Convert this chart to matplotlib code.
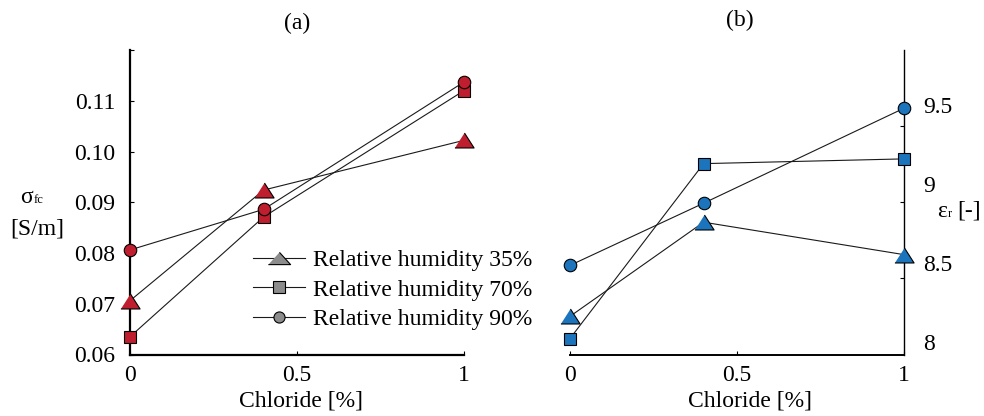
import matplotlib
matplotlib.use("Agg")
import matplotlib.pyplot as plt
from matplotlib.lines import Line2D

plt.rcParams['font.family'] = 'Liberation Serif'
plt.rcParams['font.size'] = 17

# Chloride content [%] and measured values per relative humidity
chloride = [0, 0.4, 1]

sigma_rh35 = [0.0706, 0.0924, 0.1022]
sigma_rh70 = [0.0635, 0.0871, 0.1120]
sigma_rh90 = [0.0806, 0.0886, 0.1137]

eps_rh35 = [8.165, 8.76, 8.555]
eps_rh70 = [8.025, 9.13, 9.16]
eps_rh90 = [8.487, 8.88, 9.48]

legend_labels = ["Relative humidity 35%", "Relative humidity 70%", "Relative humidity 90%"]

sigma_ticks = [0.06, 0.07, 0.08, 0.09, 0.10, 0.11, 0.12]
eps_ticks = [8, 8.5, 9, 9.5]
eps_marks = [8.405, 8.885, 9.365]

RED = '#BE1E2D'
BLUE = '#1C75BC'
LINE = '#1a1a1a'

# wide, flat triangle
tri = [(-1, -0.78), (1, -0.78), (0, 0.78)]
tri_flat = [(-1, -0.55), (1, -0.55), (0, 0.55)]

W, H = 984, 416
fig = plt.figure(figsize=(W / 100, H / 100), dpi=100)
ax_a = fig.add_axes([130 / W, 61.5 / H, 334 / W, 304.5 / H])
ax_b = fig.add_axes([570 / W, 61.5 / H, 334 / W, 304.5 / H])


def draw_series(ax, ys, marker, ms, color):
    ax.plot(chloride, ys, color=LINE, lw=0.8, marker=marker, ms=ms,
            mfc=color, mec='black', mew=0.8, clip_on=False, zorder=3)


# (a) conductivity
draw_series(ax_a, sigma_rh35, tri, 13.8, RED)
draw_series(ax_a, sigma_rh70, 's', 9.2, RED)
draw_series(ax_a, sigma_rh90, 'o', 9.0, RED)

ax_a.set_xlim(0, 1)
ax_a.set_ylim(0.06, 0.12)
ax_a.set_yticks(sigma_ticks, ['%.2f' % t for t in sigma_ticks[:-1]] + [''])
ax_a.set_xticks([0, 0.5, 1], ['0', '0.5', '1'])
for s in ['top', 'right']:
    ax_a.spines[s].set_visible(False)
for s in ['left', 'bottom']:
    ax_a.spines[s].set_linewidth(1.6)
ax_a.tick_params(axis='y', direction='in', length=3, width=0.8, pad=10.5)
ax_a.tick_params(axis='x', direction='in', length=3, width=0.8, pad=7.5)
ax_a.set_xlabel('Chloride [%]')
ax_a.xaxis.set_label_coords(0.513, -0.153)
ax_a.xaxis.label.set_va('center')

handles = [
    Line2D([], [], color=LINE, lw=0.8, marker=tri_flat, ms=16, mfc='#8c8c8c', mec='black', mew=0.8),
    Line2D([], [], color=LINE, lw=0.8, marker='s', ms=8, mfc='#8c8c8c', mec='black', mew=0.8),
    Line2D([], [], color=LINE, lw=0.8, marker='o', ms=8, mfc='#8c8c8c', mec='black', mew=0.8),
]
ax_a.legend(handles, legend_labels, frameon=False, loc='upper left',
            bbox_to_anchor=(0.368, 0.344), borderpad=0, borderaxespad=0,
            handlelength=2.2, handletextpad=0.35, labelspacing=0.33)

fig.text(297 / W, 1 - 23 / H, '(a)', ha='center', va='center')
fig.text(33 / W, 1 - 203 / H, 'σ', ha='right', va='baseline')
fig.text(33.5 / W, 1 - 203 / H, 'fc', fontsize=9, ha='left', va='baseline')
fig.text(37 / W, 1 - 229 / H, '[S/m]', ha='center', va='center')

# (b) permittivity
draw_series(ax_b, eps_rh35, tri, 13.8, BLUE)
draw_series(ax_b, eps_rh70, 's', 9.2, BLUE)
draw_series(ax_b, eps_rh90, 'o', 9.0, BLUE)

ax_b.set_xlim(0, 1)
ax_b.set_ylim(7.924, 9.848)
ax_b.yaxis.tick_right()
ax_b.set_yticks(eps_ticks, ['8', '8.5', '9', '9.5'])
ax_b.set_yticks(eps_marks, minor=True)
ax_b.set_xticks([0, 0.5, 1], ['0', '0.5', '1'])
for s in ['top', 'left']:
    ax_b.spines[s].set_visible(False)
ax_b.spines['right'].set_linewidth(1.0)
ax_b.spines['bottom'].set_linewidth(1.4)
ax_b.tick_params(axis='y', which='major', length=0, pad=14)
ax_b.tick_params(axis='y', which='minor', direction='in', length=3, width=0.8)
ax_b.tick_params(axis='x', direction='in', length=3, width=0.8, pad=7.5)
ax_b.set_xlabel('Chloride [%]')
ax_b.xaxis.set_label_coords(0.539, -0.153)
ax_b.xaxis.label.set_va('center')

fig.text(740 / W, 1 - 20 / H, '(b)', ha='center', va='center')
fig.text(947 / W, 1 - 217 / H, 'ε', ha='right', va='baseline')
fig.text(947.5 / W, 1 - 217 / H, 'r', fontsize=9, ha='left', va='baseline')
fig.text(957 / W, 1 - 217 / H, '[-]', ha='left', va='baseline')

fig.savefig('out.png', dpi=100)
